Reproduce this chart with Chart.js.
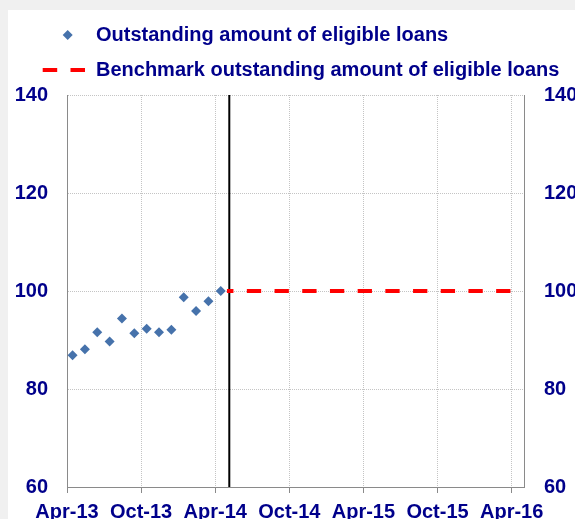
<!DOCTYPE html>
<html>
<head>
<meta charset="utf-8">
<script src="https://cdn.jsdelivr.net/npm/chart.js@4"></script>
<style>
  body { margin: 0; background: #f0f0f0; }
  #panel { position: absolute; left: 8px; top: 10px; width: 567px; height: 509px; background: #ffffff; }
</style>
</head>
<body>
<div id="panel"><canvas id="chart" width="567" height="509"></canvas></div>
<script>
// x is counted in months from Apr-13
const xTickLabels = ["Apr-13", "Oct-13", "Apr-14", "Oct-14", "Apr-15", "Oct-15", "Apr-16"];
const loanMonths = [0.45, 1.45, 2.45, 3.45, 4.45, 5.45, 6.45, 7.45, 8.45, 9.45, 10.45, 11.45, 12.45];
const loanValues = [86.9, 88.1, 91.6, 89.7, 94.4, 91.4, 92.3, 91.6, 92.1, 98.7, 95.9, 97.9, 100.0];
const benchmarkMonths = [12.95, 35.9];
const benchmarkValues = [100, 100];
const cutoffMonth = 13.14;
const yTicks = [60, 80, 100, 120, 140];

const legendText = ["Outstanding amount of eligible loans", "Benchmark outstanding amount of eligible loans"];

const NAVY = "#00008b";
const BLUE = "#4672ab";
const AXIS = "#8a8a8a";
const GRID = "#c4c4c4";
const FONT = { family: "'Liberation Sans', Arial, sans-serif", size: 20, weight: "bold" };

// legend icons, 63px wide box starting 15px in
function iconDiamond() {
  const c = document.createElement("canvas");
  c.width = 63; c.height = 12;
  const g = c.getContext("2d");
  g.fillStyle = BLUE;
  g.beginPath();
  g.moveTo(44.7 - 5, 6); g.lineTo(44.7, 1); g.lineTo(44.7 + 5, 6); g.lineTo(44.7, 11);
  g.closePath(); g.fill();
  return c;
}
function iconDash() {
  const c = document.createElement("canvas");
  c.width = 63; c.height = 12;
  const g = c.getContext("2d");
  g.strokeStyle = "#ff0000"; g.lineWidth = 4;
  g.beginPath();
  g.moveTo(19.7, 6); g.lineTo(34.2, 6);
  g.moveTo(47.5, 6); g.lineTo(62, 6);
  g.stroke();
  return c;
}

const yMin = yTicks[0], yMax = yTicks[yTicks.length - 1];

new Chart(document.getElementById("chart"), {
  type: "scatter",
  data: {
    datasets: [
      {
        label: legendText[0],
        xAxisID: "x", yAxisID: "y",
        data: loanMonths.map((m, i) => ({ x: m, y: loanValues[i] })),
        pointStyle: "rectRot",
        pointRadius: 5,
        backgroundColor: BLUE,
        borderWidth: 0
      },
      {
        label: legendText[1],
        xAxisID: "x", yAxisID: "y",
        data: benchmarkMonths.map((m, i) => ({ x: m, y: benchmarkValues[i] })),
        showLine: true,
        borderColor: "#ff0000",
        borderWidth: 4,
        borderDash: [14.3, 13.4],
        borderDashOffset: 7.8,
        pointRadius: 0
      },
      {
        label: "cutoff",
        xAxisID: "x", yAxisID: "y",
        data: [{ x: cutoffMonth, y: yMin }, { x: cutoffMonth, y: yMax }],
        showLine: true,
        borderColor: "#000000",
        borderWidth: 2,
        pointRadius: 0
      }
    ]
  },
  options: {
    responsive: false,
    animation: false,
    devicePixelRatio: 1,
    layout: { padding: 0 },
    plugins: {
      tooltip: { enabled: false },
      legend: {
        position: "top",
        align: "start",
        labels: {
          usePointStyle: true,
          pointStyleWidth: 63,
          padding: 15,
          color: NAVY,
          font: FONT,
          generateLabels: () => [
            { text: legendText[0], fontColor: NAVY, pointStyle: iconDiamond(), fillStyle: BLUE, strokeStyle: BLUE, lineWidth: 0, hidden: false, datasetIndex: 0 },
            { text: legendText[1], fontColor: NAVY, pointStyle: iconDash(), fillStyle: "#ff0000", strokeStyle: "#ff0000", lineWidth: 0, hidden: false, datasetIndex: 1 }
          ]
        }
      }
    },
    scales: {
      x: {
        type: "linear",
        min: 0, max: 37,
        afterFit: s => { s.height = 32; },
        border: { color: AXIS, width: 1, dash: [1, 1] },
        grid: { color: GRID, tickColor: AXIS, tickLength: 6, tickBorderDash: [] },
        ticks: {
          stepSize: 6, includeBounds: false, autoSkip: false, maxRotation: 0,
          padding: 7, color: NAVY, font: FONT,
          callback: v => xTickLabels[v / 6]
        }
      },
      // only keeps a little gap under the legend
      topPad: {
        type: "linear", position: "top", min: 0, max: 1,
        grid: { display: false }, border: { display: false }, ticks: { display: false },
        afterFit: s => { s.height = 5; }
      },
      y: {
        position: "left",
        min: yMin, max: yMax,
        afterFit: s => { s.width = 59; },
        border: { color: AXIS, width: 1, dash: [1, 1] },
        grid: { color: GRID, drawTicks: false },
        ticks: { stepSize: 20, padding: 19, color: NAVY, font: FONT }
      },
      y2: {
        position: "right",
        min: yMin, max: yMax,
        afterFit: s => { s.width = 51; },
        border: { color: AXIS, width: 1 },
        grid: { display: false, drawTicks: false },
        ticks: { stepSize: 20, padding: 20, color: NAVY, font: FONT }
      }
    }
  }
});
</script>
</body>
</html>
